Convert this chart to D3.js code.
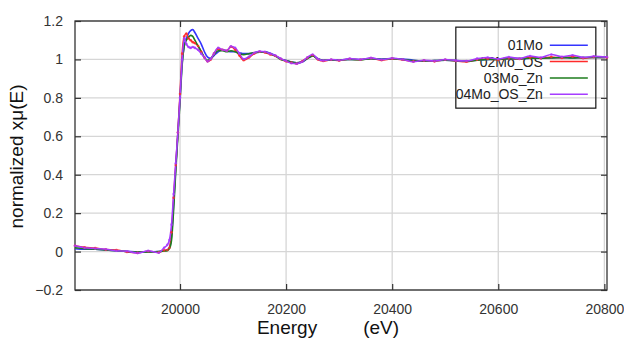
<!DOCTYPE html>
<meta charset="utf-8">
<style>
    body { margin: 0; background: #fff; }
    svg text { font-family: "Liberation Sans", Arial, sans-serif; }
</style>
<svg width="624" height="340"></svg>
<script src="https://d3js.org/d3.v7.min.js"></script>
<script>
    // energy grid (eV) shared by all spectra
    const energy = [19802, 19820, 19840, 19860, 19880, 19900, 19920, 19940, 19960, 19970,
        19976, 19980, 19984, 19988, 19992, 19996, 20000, 20004, 20008, 20012,
        20016, 20020, 20024, 20028, 20034, 20040, 20046, 20052, 20058, 20064,
        20072, 20080, 20088, 20096, 20104, 20112, 20120, 20130, 20140, 20150,
        20160, 20170, 20180, 20190, 20200, 20210, 20220, 20230, 20240, 20250,
        20260, 20270, 20285, 20300, 20320, 20340, 20360, 20380, 20400, 20420,
        20440, 20460, 20480, 20500, 20520, 20540, 20560, 20580, 20600, 20620,
        20640, 20660, 20680, 20700, 20720, 20740, 20760, 20780, 20805]

    const mo01 = [0.015, 0.012, 0.012, 0.008, 0.004, 0.001, -0.002, -0.002, 0.000, 0.004,
        0.010, 0.020, 0.080, 0.250, 0.440, 0.620, 0.800, 0.980, 1.070, 1.110,
        1.135, 1.150, 1.155, 1.140, 1.110, 1.080, 1.040, 1.012, 1.005, 1.020,
        1.040, 1.050, 1.045, 1.040, 1.040, 1.035, 1.030, 1.030, 1.035, 1.038,
        1.040, 1.032, 1.020, 1.002, 0.994, 0.986, 0.982, 0.986, 1.004, 1.018,
        1.004, 0.996, 0.996, 0.998, 1.000, 1.000, 1.004, 1.002, 1.004, 1.002,
        0.996, 0.992, 0.994, 0.996, 0.994, 0.992, 0.996, 1.000, 1.002, 1.004,
        1.004, 1.006, 1.008, 1.008, 1.010, 1.008, 1.010, 1.010, 1.012]

    const mo02os = [0.030, 0.022, 0.018, 0.010, 0.008, -0.002, -0.006, 0.002, -0.004, 0.006,
        0.008, 0.020, 0.100, 0.280, 0.450, 0.620, 0.820, 1.030, 1.120, 1.135,
        1.110, 1.100, 1.090, 1.085, 1.070, 1.040, 1.010, 0.990, 1.000, 1.030,
        1.055, 1.050, 1.045, 1.066, 1.050, 1.020, 0.996, 1.010, 1.030, 1.040,
        1.036, 1.026, 1.018, 1.002, 0.990, 0.984, 0.978, 0.990, 1.008, 1.022,
        1.000, 0.992, 0.998, 0.994, 1.002, 0.998, 1.006, 0.996, 1.004, 0.998,
        0.990, 0.994, 0.990, 0.998, 0.992, 0.988, 0.998, 1.002, 0.998, 1.006,
        1.002, 1.010, 1.006, 1.012, 1.008, 1.014, 1.006, 1.012, 1.010]

    const mo03zn = [0.020, 0.015, 0.012, 0.008, 0.004, 0.000, -0.003, -0.002, 0.000, 0.003,
        0.005, 0.015, 0.060, 0.220, 0.420, 0.600, 0.780, 0.970, 1.070, 1.100,
        1.115, 1.125, 1.120, 1.100, 1.070, 1.040, 1.010, 0.995, 1.005, 1.025,
        1.045, 1.045, 1.040, 1.045, 1.040, 1.030, 1.025, 1.030, 1.035, 1.038,
        1.038, 1.030, 1.018, 1.000, 0.994, 0.986, 0.982, 0.988, 1.004, 1.018,
        1.002, 0.996, 0.996, 0.998, 1.000, 0.998, 1.004, 1.000, 1.004, 1.000,
        0.994, 0.992, 0.994, 0.996, 0.994, 0.990, 0.996, 1.000, 1.000, 1.004,
        1.004, 1.006, 1.006, 1.008, 1.010, 1.008, 1.010, 1.010, 1.012]

    const mo04oszn = [0.030, 0.020, 0.016, 0.012, 0.004, 0.002, -0.008, 0.004, -0.006, 0.020,
        0.035, 0.060, 0.140, 0.300, 0.460, 0.620, 0.800, 1.000, 1.110, 1.080,
        1.065, 1.060, 1.065, 1.060, 1.050, 1.030, 1.010, 0.990, 1.002, 1.030,
        1.060, 1.050, 1.045, 1.068, 1.060, 1.030, 1.002, 1.014, 1.034, 1.042,
        1.040, 1.030, 1.020, 1.004, 0.992, 0.980, 0.978, 0.988, 1.010, 1.026,
        1.002, 0.994, 1.000, 0.996, 1.004, 1.000, 1.008, 0.998, 1.006, 1.000,
        0.988, 0.996, 0.992, 1.000, 0.994, 0.992, 1.004, 1.010, 1.002, 1.012,
        1.004, 1.018, 1.010, 1.026, 1.014, 1.022, 1.010, 1.016, 1.012]

    const seriesNames = ["01Mo", "02Mo_OS", "03Mo_Zn", "04Mo_OS_Zn"]
    const seriesValues = [mo01, mo02os, mo03zn, mo04oszn]
    const seriesColors = ["#3434ff", "#ff2a2a", "#1e7d1e", "#a63cff"]

    const xTicks = [20000, 20200, 20400, 20600, 20800]
    const yTicks = [-0.2, 0, 0.2, 0.4, 0.6, 0.8, 1, 1.2]

    const svg = d3.select("svg")
    const margin = { left: 75, right: 17, top: 21, bottom: 50 }
    const width = 624 - margin.left - margin.right,
        height = 340 - margin.top - margin.bottom

    const x = d3.scaleLinear().domain([19802, 20805]).range([0, width])
    const y = d3.scaleLinear().domain([-0.2, 1.2]).range([height, 0])

    const g = svg.append("g").attr("transform", `translate(${margin.left},${margin.top})`)

    // grid
    g.append("g").selectAll("line").data(xTicks).join("line")
        .attr("x1", d => x(d)).attr("x2", d => x(d))
        .attr("y1", 0).attr("y2", height)
        .attr("stroke", "#d6d6d6").attr("stroke-width", 1.3)
    g.append("g").selectAll("line").data(yTicks).join("line")
        .attr("y1", d => y(d)).attr("y2", d => y(d))
        .attr("x1", 0).attr("x2", width)
        .attr("stroke", "#d6d6d6").attr("stroke-width", 1.3)

    // axes with inward ticks
    function styleAxis(sel) {
        sel.select(".domain").remove()
        sel.selectAll(".tick line").attr("stroke", "#333").attr("stroke-width", 1.2)
        sel.selectAll(".tick text").attr("fill", "#333").style("font-size", "14px")
    }
    g.append("g").attr("transform", `translate(0,${height})`)
        .call(d3.axisBottom(x).tickValues(xTicks).tickFormat(d3.format("d"))
            .tickSizeInner(-6).tickPadding(14))
        .call(styleAxis)
    g.append("g")
        .call(d3.axisTop(x).tickValues(xTicks).tickSizeInner(-6).tickFormat(""))
        .call(styleAxis)
    g.append("g")
        .call(d3.axisLeft(y).tickValues(yTicks).tickFormat(d => d3.format("")(+d.toFixed(1)))
            .tickSizeInner(-6).tickPadding(12))
        .call(styleAxis)
    g.append("g").attr("transform", `translate(${width},0)`)
        .call(d3.axisRight(y).tickValues(yTicks).tickSizeInner(-6).tickFormat(""))
        .call(styleAxis)

    g.append("rect").attr("width", width).attr("height", height)
        .attr("fill", "none").attr("stroke", "#333").attr("stroke-width", 1.3)

    // legend box (drawn under the curves)
    const legend = g.append("g").attr("transform", `translate(${x(20520)},${y(1.168)})`)
    legend.append("rect").attr("width", 140).attr("height", 81)
        .attr("fill", "none").attr("stroke", "#111").attr("stroke-width", 1.2)
    seriesNames.forEach((name, i) => {
        const ly = 18 + i * 16.4
        legend.append("text").attr("x", 87).attr("y", ly + 5)
            .attr("text-anchor", "end").attr("fill", "#222")
            .style("font-size", "14px").text(name)
        legend.append("line").attr("x1", 94).attr("x2", 132)
            .attr("y1", ly).attr("y2", ly)
            .attr("stroke", seriesColors[i]).attr("stroke-width", 1.5)
    })

    // spectra
    const line = d3.line().x((d, i) => x(energy[i])).y(d => y(d)).curve(d3.curveMonotoneX)
    const plot = g.append("g")
    seriesValues.forEach((vals, i) => {
        plot.append("path").datum(vals)
            .attr("d", line)
            .attr("fill", "none")
            .attr("stroke", seriesColors[i])
            .attr("stroke-width", 1.6)
            .attr("stroke-linejoin", "round")
    })
    // the noisier scans show their data points
    ;[1, 3].forEach(i => {
        plot.append("g").selectAll("circle").data(seriesValues[i]).join("circle")
            .attr("cx", (d, j) => x(energy[j])).attr("cy", d => y(d))
            .attr("r", 1.3).attr("fill", seriesColors[i]).attr("opacity", 0.8)
    })

    // axis titles
    svg.append("text")
        .attr("transform", `translate(23,${margin.top + height / 2 + 1}) rotate(-90)`)
        .attr("text-anchor", "middle").attr("fill", "#111")
        .style("font-size", "19px").text("normalized xμ(E)")
    const xt = svg.append("text")
        .attr("x", 328).attr("y", 334)
        .attr("text-anchor", "middle").attr("fill", "#111")
        .style("font-size", "19px")
    xt.append("tspan").text("Energy")
    xt.append("tspan").attr("dx", 46).text("(eV)")
</script>
